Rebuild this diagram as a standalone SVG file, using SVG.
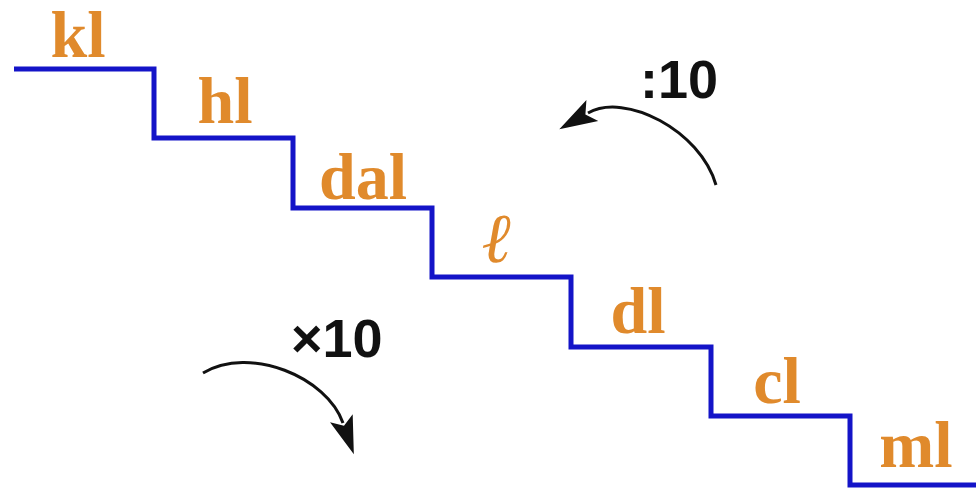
<svg xmlns="http://www.w3.org/2000/svg" width="976" height="492" viewBox="0 0 976 492">
<style>
.lbl{font-family:"Liberation Serif",serif;font-weight:bold;font-size:66px;fill:#e08a2c;text-anchor:middle}
.ell{font-family:"Liberation Serif","DejaVu Serif",serif;font-style:italic;font-size:70px;fill:#e08a2c;text-anchor:middle}
.op{font-family:"Liberation Sans",Arial,sans-serif;font-weight:bold;font-size:54px;fill:#111}
.stair{fill:none;stroke:#1414c8;stroke-width:5;stroke-linejoin:miter}
.arc{fill:none;stroke:#111;stroke-width:3}
</style>
<defs>
<marker id="ah" markerUnits="userSpaceOnUse" markerWidth="44" markerHeight="30" refX="5" refY="15" orient="auto" viewBox="0 0 44 30">
<path d="M0,3 L38,15 L0,27 L8,15 Z" fill="#111"/>
</marker>
</defs>
<g id="connectors">
<path id="staircase" class="stair" d="M14,69 H154 V138 H293 V208 H432 V277 H571 V347 H711 V416 H850 V485 H976"/>
<path id="arrow-div" class="arc" d="M716,185 C700,130 625,92 588,113" marker-end="url(#ah)"/>
<path id="arrow-mul" class="arc" d="M203,373 C250,345 327,377 343,423" marker-end="url(#ah)"/>
</g>
<g id="kl"><text class="lbl" x="78" y="57" font-size="64">kl</text></g>
<g id="hl"><text class="lbl" x="225" y="123">hl</text></g>
<g id="dal"><text class="lbl" x="363" y="199">dal</text></g>
<g id="l"><text class="ell" x="496" y="262">ℓ</text></g>
<g id="dl"><text class="lbl" x="638" y="333">dl</text></g>
<g id="cl"><text class="lbl" x="777" y="403">cl</text></g>
<g id="ml"><text class="lbl" x="916" y="467">ml</text></g>
<g id="div10"><text class="op" x="640" y="98">:10</text></g>
<g id="mul10"><text class="op" x="291" y="357">×10</text></g>
</svg>
